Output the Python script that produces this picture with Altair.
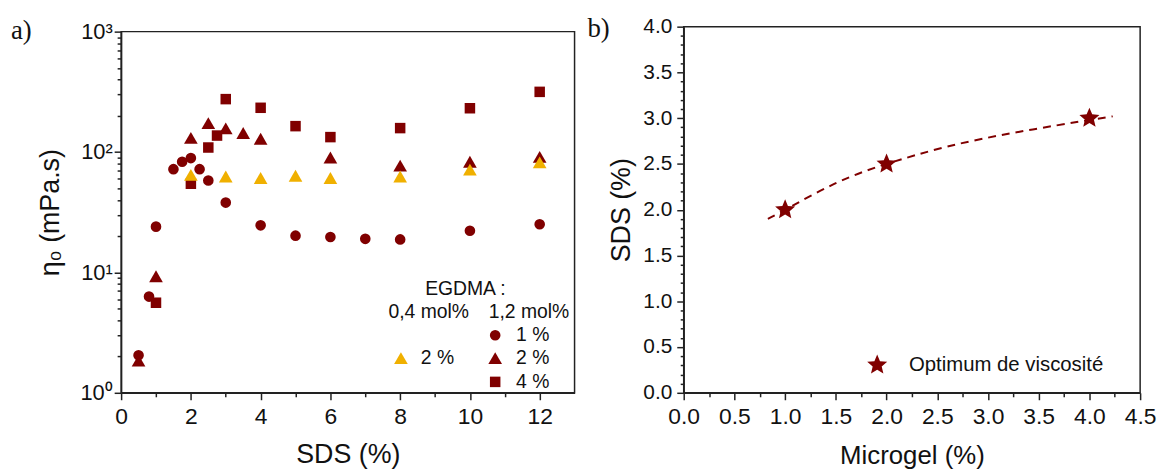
import math
import altair as alt
import pandas as pd

# ---------------- data ----------------
# panel a) : eta0 (mPa.s) vs SDS (%)
# EGDMA 1,2 mol%, microgel 1 %  (circles)
c1_sds = [0.5, 0.8, 1.0, 1.5, 1.75, 2.0, 2.25, 2.5, 3.0, 4.0, 5.0, 6.0, 7.0, 8.0, 10.0, 12.0]
c1_eta = [2.05, 6.3, 24, 72, 83, 89, 72, 58, 38, 24.6, 20.2, 19.7, 19.0, 18.8, 22.2, 25.1]
# EGDMA 1,2 mol%, microgel 2 %  (dark triangles)
c2_sds = [0.5, 1.0, 2.0, 2.5, 3.0, 3.5, 4.0, 6.0, 8.0, 10.0, 12.0]
c2_eta = [1.85, 9.3, 131, 174, 157, 144, 129, 90, 77, 83, 91]
# EGDMA 1,2 mol%, microgel 4 %  (squares)
c4_sds = [1.0, 2.0, 2.5, 2.75, 3.0, 4.0, 5.0, 6.0, 8.0, 10.0, 12.0]
c4_eta = [5.6, 54.5, 109, 137, 275, 233, 164, 133, 158, 231, 316]
# EGDMA 0,4 mol%, microgel 2 %  (yellow triangles)
y2_sds = [2.0, 3.0, 4.0, 5.0, 6.0, 8.0, 10.0, 12.0]
y2_eta = [64.5, 62.6, 60.8, 63.5, 60.8, 62.6, 71.5, 82]

# panel b) : optimum SDS vs microgel
opt_micro = [1.0, 2.0, 4.0]
opt_sds = [2.0, 2.5, 3.0]
# dashed guide curve
fit_micro = [0.83, 1.0, 1.5, 2.0, 2.6, 3.3, 4.0, 4.23]
fit_sds = [1.90, 2.0, 2.29, 2.5, 2.69, 2.85, 2.98, 3.02]

# axes / ticks
a_x_domain = [0, 13]
a_x_ticks = list(range(0, 13))
a_y_domain = [1, 1000]
a_y_ticks = [m * 10 ** e for e in range(3) for m in range(1, 10)] + [1000]
a_y_major = [1, 10, 100, 1000]
a_y_labels = ["10⁰", "10¹", "10²", "10³"]

b_x_domain = [0, 4.5]
b_x_ticks = [round(i * 0.25, 2) for i in range(19)]
b_y_domain = [0, 4]
b_y_ticks = [round(i * 0.1, 1) for i in range(41)]

# ---------------- style ----------------
DARK = "#800000"
GOLD = "#F0B000"
INK = "#222222"
FONT = "Liberation Sans"
SERIF = "Liberation Serif"

W_A, H_A = 457, 369
W_B, H_B = 460, 369

# star path in [-1, 1] box
_pts = []
for k in range(10):
    ang = math.radians(-90 + 36 * k)
    r = 1.0 if k % 2 == 0 else 0.45
    _pts.append(f"{r * math.cos(ang):.4f},{r * math.sin(ang):.4f}")
STAR = "M" + " L".join(_pts) + " Z"

one = pd.DataFrame({"k": [0]})

# ---------------- panel a ----------------
ya_expr = " : ".join(
    [f"datum.value === {v} ? '{t}'" for v, t in zip(a_y_major, a_y_labels)]
) + " : ''"
ya_major_test = "indexof([" + ",".join(str(v) for v in a_y_major) + "], datum.value) >= 0"

xa_axis = alt.Axis(
    values=a_x_ticks,
    labelExpr="datum.value % 2 === 0 ? datum.label : ''",
    tickSize={"condition": {"test": "datum.value % 2 === 0", "value": 7}, "value": 4},
    labelFontSize=23, labelPadding=6, labelFlush=False, labelOverlap=False,
    title="SDS (%)", titleFontSize=27, titlePadding=13,
)
ya_axis = alt.Axis(
    values=a_y_ticks,
    labelExpr=ya_expr,
    tickSize={"condition": {"test": ya_major_test, "value": 7}, "value": 4},
    labelFontSize=22, labelPadding=2, labelOverlap=False, labelFlush=False,
    title="η₀ (mPa.s)", titleFontSize=27, titlePadding=16,
)
xa_scale = alt.Scale(domain=a_x_domain, nice=False, zero=False)
ya_scale = alt.Scale(type="log", domain=a_y_domain, range=[H_A, 5], nice=False)


def a_enc(c):
    return c.encode(
        x=alt.X("x:Q", scale=xa_scale, axis=xa_axis),
        y=alt.Y("y:Q", scale=ya_scale, axis=ya_axis),
    )


frame_a = alt.Chart(
    pd.DataFrame({"x": [a_x_domain[0]], "x2": [a_x_domain[1]], "y": [a_y_domain[0]], "y2": [a_y_domain[1]]})
).mark_rect(fill="transparent", stroke=INK, strokeWidth=1.5).encode(
    x=alt.X("x:Q", scale=xa_scale, axis=xa_axis),
    x2="x2:Q",
    y=alt.Y("y:Q", scale=ya_scale, axis=ya_axis),
    y2="y2:Q",
)

tri_dark = a_enc(alt.Chart(pd.DataFrame({"x": c2_sds, "y": c2_eta})).mark_point(
    shape="triangle-up", filled=True, size=190, color=DARK, opacity=1))
circ = a_enc(alt.Chart(pd.DataFrame({"x": c1_sds, "y": c1_eta})).mark_point(
    shape="circle", filled=True, size=115, color=DARK, opacity=1))
sq = a_enc(alt.Chart(pd.DataFrame({"x": c4_sds, "y": c4_eta})).mark_point(
    shape="square", filled=True, size=112, color=DARK, opacity=1))
tri_gold = a_enc(alt.Chart(pd.DataFrame({"x": y2_sds, "y": y2_eta})).mark_point(
    shape="triangle-up", filled=True, size=190, color=GOLD, opacity=1))


def txt(s, x, y, size=19, align="center", font=FONT, baseline="middle"):
    return alt.Chart(one).mark_text(
        font=font, fontSize=size, align=align, baseline=baseline, color="#111111"
    ).encode(x=alt.value(x), y=alt.value(y), text=alt.value(s))


def sym(shape, color, size, x, y):
    return alt.Chart(one).mark_point(
        shape=shape, filled=True, size=size, color=color, opacity=1
    ).encode(x=alt.value(x), y=alt.value(y))


legend_a = [
    txt("EGDMA :", 347, 264, size=19.5),
    txt("0,4 mol%", 310, 288, size=19.5),
    txt("1,2 mol%", 411, 288, size=19.5),
    sym("circle", DARK, 115, 377, 311),
    txt("1 %", 398, 311, align="left", size=19.5),
    sym("triangle-up", DARK, 190, 377, 334),
    txt("2 %", 398, 334, align="left", size=19.5),
    sym("square", DARK, 112, 377, 358),
    txt("4 %", 398, 358, align="left", size=19.5),
    sym("triangle-up", GOLD, 190, 282, 334),
    txt("2 %", 302, 334, align="left", size=19.5),
]
label_a = txt("a)", -111, 12.5, size=27, align="left", font=SERIF, baseline="alphabetic")

panel_a = alt.layer(frame_a, tri_dark, circ, sq, tri_gold, *legend_a, label_a).properties(
    width=W_A, height=H_A, view=alt.ViewBackground(stroke="transparent")
)

# ---------------- panel b ----------------
half_test = "abs(datum.value * 2 - round(datum.value * 2)) < 0.001"
xb_axis = alt.Axis(
    values=b_x_ticks,
    labelExpr=f"{half_test} ? format(datum.value, '.1f') : ''",
    tickSize={"condition": {"test": half_test, "value": 7}, "value": 4},
    labelFontSize=23, labelPadding=6, labelFlush=False, labelOverlap=False,
    title="Microgel (%)", titleFontSize=26, titlePadding=14,
)
yb_axis = alt.Axis(
    values=b_y_ticks,
    labelExpr=f"{half_test} ? format(datum.value, '.1f') : ''",
    tickSize={"condition": {"test": half_test, "value": 7}, "value": 3.5},
    labelFontSize=21, labelPadding=5, labelFlush=False, labelOverlap=False,
    title="SDS (%)", titleFontSize=27, titlePadding=7,
)
xb_scale = alt.Scale(domain=b_x_domain, nice=False, zero=False)
yb_scale = alt.Scale(domain=b_y_domain, nice=False, zero=False)

fit = alt.Chart(pd.DataFrame({"x": fit_micro, "y": fit_sds})).mark_line(
    color=DARK, strokeWidth=2, strokeDash=[8, 6], interpolate="natural"
).encode(
    x=alt.X("x:Q", scale=xb_scale, axis=xb_axis),
    y=alt.Y("y:Q", scale=yb_scale, axis=yb_axis),
)
stars = alt.Chart(pd.DataFrame({"x": opt_micro, "y": opt_sds})).mark_point(
    shape=STAR, filled=True, size=450, color=DARK, opacity=1
).encode(
    x=alt.X("x:Q", scale=xb_scale, axis=xb_axis),
    y=alt.Y("y:Q", scale=yb_scale, axis=yb_axis),
)
legend_b = [
    sym(STAR, DARK, 450, 195, 341),
    txt("Optimum de viscosité", 227, 341, size=20.5, align="left"),
]
label_b = txt("b)", -97, 10.5, size=27, align="left", font=SERIF, baseline="alphabetic")

panel_b = alt.layer(fit, stars, *legend_b, label_b).properties(width=W_B, height=H_B)

chart = alt.hconcat(panel_a, panel_b, spacing=10).properties(
    padding={"left": 2, "top": 4, "right": 0, "bottom": 0}
).configure_view(
    stroke=INK, strokeWidth=1.5
).configure_axis(
    grid=False,
    domainColor=INK, domainWidth=1.5,
    tickColor=INK, tickWidth=1.5,
    labelColor="#111111", titleColor="#111111",
    labelFont=FONT, titleFont=FONT, titleFontWeight="normal",
)

chart.save("out.html", embed_options={"renderer": "svg", "actions": False})
